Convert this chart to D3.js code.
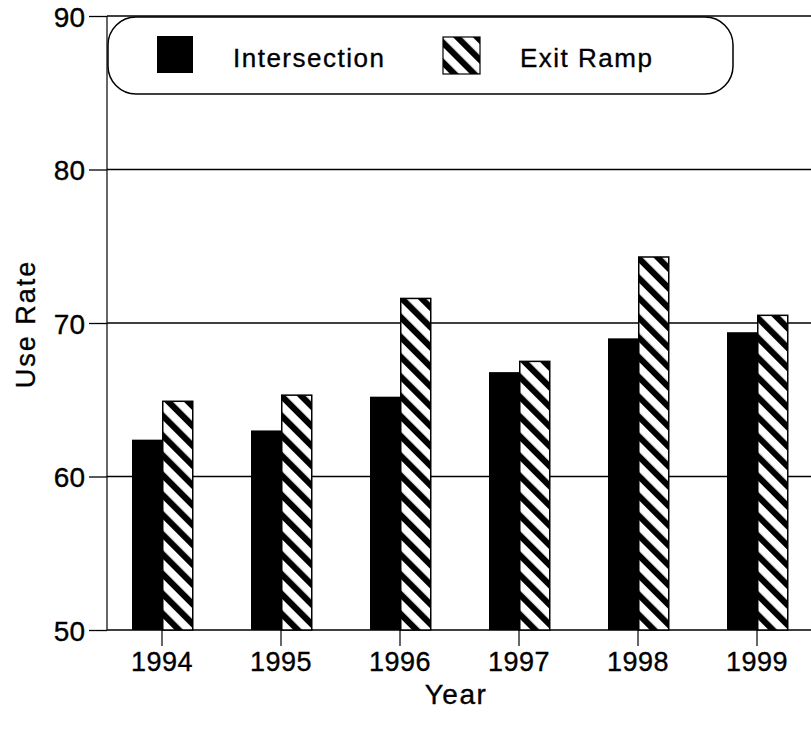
<!DOCTYPE html>
<html>
<head>
<meta charset="utf-8">
<script src="https://cdn.jsdelivr.net/npm/d3@7"></script>
<style>
  html, body { margin: 0; padding: 0; background: #fff; }
  svg { display: block; }
  text { font-family: "Liberation Sans", Arial, sans-serif; fill: #000; stroke: #000; stroke-width: 0.35px; }
</style>
</head>
<body>
<svg id="chart" width="811" height="729"></svg>
<script>
// ---- data ----
const years = ["1994", "1995", "1996", "1997", "1998", "1999"];
const intersection = [62.4, 63.0, 65.2, 66.8, 69.0, 69.4];
const exitRamp = [64.9, 65.3, 71.6, 67.5, 74.3, 70.5];
const yTicks = [50, 60, 70, 80, 90];
const seriesNames = ["Intersection", "Exit Ramp"];

// ---- layout ----
const W = 811, H = 729;
const axisX = 107;
const svg = d3.select("#chart");

const y = d3.scaleLinear().domain([50, 90]).range([630, 16]);
const x = d3.scaleBand().domain(years).range([102.5, 816.5]).paddingInner(0).paddingOuter(0);
const barW = 30;

// hatch pattern
const defs = svg.append("defs");
const pat = defs.append("pattern")
  .attr("id", "hatch")
  .attr("patternUnits", "userSpaceOnUse")
  .attr("width", 14).attr("height", 14)
  .attr("patternTransform", "rotate(-45)");
pat.append("rect").attr("width", 14).attr("height", 14).attr("fill", "#fff");
pat.append("rect").attr("x", 0).attr("width", 6.2).attr("height", 14).attr("fill", "#000");

// y ticks
const yAxis = d3.axisLeft(y).tickValues(yTicks).tickSize(axisX - 89).tickPadding(4);
const gy = svg.append("g").attr("transform", `translate(${axisX},0)`).call(yAxis);
gy.select(".domain").remove();
gy.selectAll(".tick line").attr("stroke", "#000").attr("stroke-width", 1.3);
gy.selectAll(".tick text").style("font-size", "28px").attr("dy", "0.36em")
  .style("font-family", '"Liberation Sans", Arial, sans-serif');

// gridlines across
svg.append("g").selectAll("line").data(yTicks).join("line")
  .attr("x1", axisX).attr("x2", W)
  .attr("y1", d => y(d)).attr("y2", d => y(d))
  .attr("stroke", "#000").attr("stroke-width", d => d === 50 ? 1.6 : 1.3);

// y axis line
svg.append("line").attr("x1", axisX).attr("x2", axisX)
  .attr("y1", y(90)).attr("y2", y(50)).attr("stroke", "#000").attr("stroke-width", 1.2);

// bars
const cx = d => x(d) + x.bandwidth() / 2;
svg.append("g").selectAll("rect").data(years).join("rect")
  .attr("x", (d) => cx(d) - barW)
  .attr("y", (d, i) => y(intersection[i]))
  .attr("width", barW)
  .attr("height", (d, i) => y(50) - y(intersection[i]))
  .attr("fill", "#000");

svg.append("g").selectAll("rect").data(years).join("rect")
  .attr("x", (d) => cx(d) + 0.75)
  .attr("y", (d, i) => y(exitRamp[i]))
  .attr("width", barW)
  .attr("height", (d, i) => y(50) - y(exitRamp[i]))
  .attr("fill", "url(#hatch)")
  .attr("stroke", "#000").attr("stroke-width", 1.5);

// x axis ticks & labels
const xAxis = d3.axisBottom(x).tickSize(16).tickPadding(6);
const gx = svg.append("g").attr("transform", `translate(0,${y(50)})`).call(xAxis);
gx.select(".domain").remove();
gx.selectAll(".tick line").attr("stroke", "#000").attr("stroke-width", 1.2);
gx.selectAll(".tick text").style("font-size", "27px").style("letter-spacing", "0.5px")
  .style("font-family", '"Liberation Sans", Arial, sans-serif');

// axis titles
svg.append("text").attr("x", 456).attr("y", 704).attr("text-anchor", "middle")
  .style("font-size", "28px").style("letter-spacing", "1.5px").text("Year");
svg.append("text").attr("transform", "translate(35,324) rotate(-90)")
  .attr("text-anchor", "middle").style("font-size", "27px").style("letter-spacing", "2px").text("Use Rate");

// legend
const lg = svg.append("g");
lg.append("rect").attr("x", 108).attr("y", 17).attr("width", 625).attr("height", 77)
  .attr("rx", 28).attr("ry", 28).attr("fill", "#fff").attr("stroke", "#000").attr("stroke-width", 1.5);
lg.append("rect").attr("x", 157).attr("y", 36).attr("width", 36).attr("height", 37).attr("fill", "#000");
lg.append("text").attr("x", 233).attr("y", 67).style("font-size", "26px").style("letter-spacing", "1.5px").text(seriesNames[0]);
lg.append("rect").attr("x", 443).attr("y", 37).attr("width", 37).attr("height", 37)
  .attr("fill", "url(#hatch)").attr("stroke", "#000").attr("stroke-width", 1.2);
lg.append("text").attr("x", 520).attr("y", 67).style("font-size", "26px").style("letter-spacing", "1.5px").text(seriesNames[1]);
</script>
</body>
</html>
